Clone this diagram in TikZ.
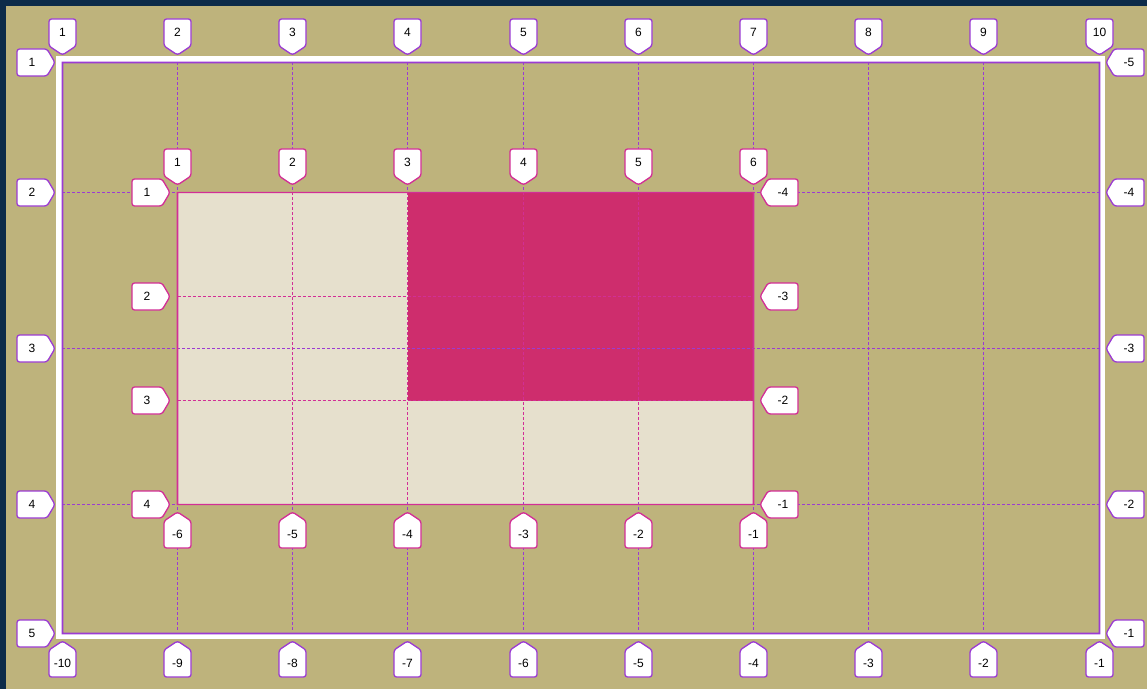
\documentclass[tikz,border=0pt]{standalone}
\usepackage{fontspec}
\setmainfont{Liberation Sans}
\definecolor{navy}{HTML}{0C2B49}
\definecolor{khaki}{HTML}{BEB37C}
\definecolor{cream}{HTML}{E6E0CD}
\definecolor{pinkfill}{HTML}{CE2D6D}
\definecolor{gridpurple}{HTML}{9B3BD3}
\definecolor{gridmagenta}{HTML}{D22E96}
\tikzset{
  lab/.style={fill=white, line width=1.3bp, rounded corners=2.5bp, line join=round},
  labtext/.style={inner sep=0pt, font=\fontsize{12bp}{14bp}\selectfont, text=black},
  outerline/.style={gridpurple, line width=1.2bp, dash pattern=on 3bp off 2bp},
  innerline/.style={gridmagenta, line width=1.2bp, dash pattern=on 3bp off 2bp},
}
% vertical dashed line drawn as filled dashes: x, y start, number of dashes, colour
\newcommand\vdashes[4]{%
  \foreach \k in {0,...,#3}
    \fill[#4] (#1-0.8,#2+5*\k) rectangle (#1+0.8,#2+5*\k+3);}
% tip points down, box above
\newcommand\labD[5]{%
  \draw[lab,draw=#4] (#2,#3) -- ++(13.5,-9) -- ++(0,-27) -- ++(-27,0) -- ++(0,27) -- cycle;
  \node[labtext] (#1) at (#2,#3-22.5) {#5};}
% tip points up, box below
\newcommand\labU[5]{%
  \draw[lab,draw=#4] (#2,#3) -- ++(13.5,9) -- ++(0,27) -- ++(-27,0) -- ++(0,-27) -- cycle;
  \node[labtext] (#1) at (#2,#3+22.5) {#5};}
% tip points right, box left
\newcommand\labR[5]{%
  \draw[lab,draw=#4] (#2,#3) -- ++(-8,13.5) -- ++(-30,0) -- ++(0,-27) -- ++(30,0) -- cycle;
  \node[labtext] (#1) at (#2-23,#3) {#5};}
% tip points left, box right
\newcommand\labL[5]{%
  \draw[lab,draw=#4] (#2,#3) -- ++(8,13.5) -- ++(30,0) -- ++(0,-27) -- ++(-30,0) -- cycle;
  \node[labtext] (#1) at (#2+23,#3) {#5};}
\begin{document}
\begin{tikzpicture}[x=1bp,y=-1bp]
\useasboundingbox (0,0) rectangle (1147,689);
\fill[navy] (0,0) rectangle (1147,689);
\fill[khaki] (6,6) rectangle (1147,689);
% inner grid areas
\fill[cream] (177.5,192.5) rectangle (753.5,504.5);
\fill[pinkfill] (407.5,192.5) rectangle (753.5,400.5);
% outer grid dashed lines
\foreach \x in {177.5,292.5,407.5,523.5,638.5,753.5,868.5,983.5}
  \vdashes{\x}{62}{113}{gridpurple};
\foreach \y in {192.5,348.5,504.5}
  \draw[outerline] (62,\y) -- (1099,\y);
% inner grid dashed lines
\foreach \x in {292.5,407.5,523.5,638.5}
  \vdashes{\x}{192}{61}{gridmagenta};
\foreach \y in {296.5,400.5}
  \draw[innerline] (177.5,\y) -- (753.5,\y);
\fill[gridmagenta] (176.7,191.8) rectangle (754.3,193.2)
  (176.7,503.8) rectangle (754.3,505.2)
  (176.7,191.8) rectangle (178.3,505.2)
  (752.7,191.8) rectangle (754.3,505.2);
% outer frame
\draw[white, line width=6bp] (59,59) rectangle (1102,636);
\fill[gridpurple, even odd rule] (61.7,61.7) rectangle (1100.3,634.3) (63.3,63.3) rectangle (1098.7,632.7);
% outer labels
\foreach \x/\t [count=\i] in {62.5/1,177.5/2,292.5/3,407.5/4,523.5/5,638.5/6,753.5/7,868.5/8,983.5/9,1099.5/10}
  \labD{ot\i}{\x}{55}{gridpurple}{\t};
\foreach \x/\t [count=\i] in {62.5/-10,177.5/-9,292.5/-8,407.5/-7,523.5/-6,638.5/-5,753.5/-4,868.5/-3,983.5/-2,1099.5/-1}
  \labU{ob\i}{\x}{641}{gridpurple}{\t};
\foreach \y/\t [count=\i] in {62.5/1,192.5/2,348.5/3,504.5/4,633.5/5}
  \labR{ol\i}{55}{\y}{gridpurple}{\t};
\foreach \y/\t [count=\i] in {62.5/-5,192.5/-4,348.5/-3,504.5/-2,633.5/-1}
  \labL{or\i}{1106}{\y}{gridpurple}{\t};
% inner labels
\foreach \x/\t [count=\i] in {177.5/1,292.5/2,407.5/3,523.5/4,638.5/5,753.5/6}
  \labD{it\i}{\x}{185}{gridmagenta}{\t};
\foreach \x/\t [count=\i] in {177.5/-6,292.5/-5,407.5/-4,523.5/-3,638.5/-2,753.5/-1}
  \labU{ib\i}{\x}{512}{gridmagenta}{\t};
\foreach \y/\t [count=\i] in {192.5/1,296.5/2,400.5/3,504.5/4}
  \labR{il\i}{170}{\y}{gridmagenta}{\t};
\foreach \y/\t [count=\i] in {192.5/-4,296.5/-3,400.5/-2,504.5/-1}
  \labL{ir\i}{760}{\y}{gridmagenta}{\t};
\end{tikzpicture}
\end{document}
